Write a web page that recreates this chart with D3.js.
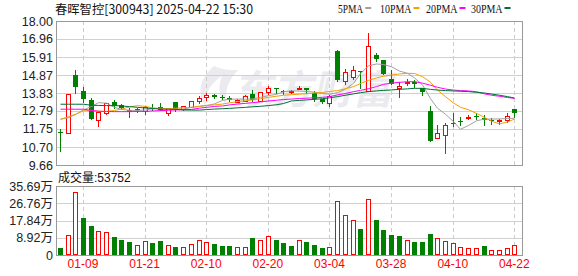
<!DOCTYPE html>
<html>
<head>
<meta charset="utf-8">
<script src="https://cdn.jsdelivr.net/npm/d3@7"></script>
<style>
body { margin: 0; background: #fff; }
svg text { font-family: "Liberation Sans", Arial, "Noto Sans CJK SC", sans-serif; }
</style>
</head>
<body>
<script>
// trading days shown (stock suspended 03-05 .. 03-18)
const dates = ['01-06','01-07','01-08','01-09','01-10','01-13','01-14','01-15','01-16','01-17',
  '01-20','01-21','01-22','01-23','01-24','01-27','02-05','02-06','02-07','02-10',
  '02-11','02-12','02-13','02-14','02-17','02-18','02-19','02-20','02-21','02-24',
  '02-25','02-26','02-27','02-28','03-03','03-04','03-19','03-20','03-21','03-24',
  '03-25','03-26','03-27','03-28','03-31','04-01','04-02','04-03','04-07','04-08',
  '04-09','04-10','04-11','04-14','04-15','04-16','04-17','04-18','04-21','04-22'];

const opens = [11.57,11.53,14.87,13.95,13.43,12.25,12.67,13.31,13.14,12.77,
  12.88,12.81,12.96,13.02,12.66,13.31,12.89,13.00,13.39,13.58,
  13.72,13.60,13.56,13.33,13.39,13.76,13.35,13.87,14.11,13.97,
  13.89,14.06,14.10,13.81,13.47,13.27,16.26,14.54,14.74,15.10,
  13.96,16.03,15.74,14.62,14.10,14.43,14.45,14.14,12.79,11.23,
  11.38,12.10,12.19,12.40,12.52,12.40,12.28,12.20,12.27,12.90];
const highs = [11.75,13.76,15.16,14.18,13.54,12.71,13.23,13.43,13.21,12.96,
  12.96,13.08,13.19,13.25,12.98,13.31,13.08,13.37,13.66,13.81,
  13.77,13.70,13.64,13.48,13.70,13.99,13.89,14.24,14.11,14.00,
  14.02,14.24,14.10,13.96,13.50,13.72,16.32,15.22,15.39,15.10,
  17.30,16.17,15.74,15.16,14.45,14.62,14.57,14.14,13.08,11.96,
  12.08,12.65,12.42,12.54,12.65,12.56,12.37,12.33,12.67,12.90];
const lows = [10.49,11.53,13.85,13.31,12.34,11.94,12.61,12.98,12.89,12.46,
  12.75,12.61,12.85,12.83,12.56,12.79,12.87,13.00,13.23,13.43,
  13.54,13.50,13.35,13.29,13.39,13.37,13.35,13.79,13.83,13.77,
  13.81,14.06,13.81,13.37,13.27,13.08,14.53,14.33,14.66,14.12,
  13.96,15.67,14.95,14.35,13.58,14.27,14.20,13.70,11.07,11.20,
  10.37,11.92,11.98,12.31,12.34,11.96,12.05,12.05,12.15,12.44];
const closes = [11.50,13.76,14.20,13.50,12.34,12.71,13.23,13.06,12.94,12.85,
  12.86,13.00,12.89,12.85,12.98,12.92,13.06,13.37,13.52,13.72,
  13.62,13.58,13.41,13.43,13.64,13.44,13.89,14.12,14.09,13.95,
  13.94,14.14,14.00,13.50,13.33,13.66,14.58,15.06,15.14,15.06,
  16.53,15.78,14.95,14.35,14.22,14.49,14.33,13.89,11.07,11.50,
  11.96,12.08,12.17,12.42,12.50,12.25,12.26,12.27,12.52,12.67];

// volume in 万 shares
const volumes = [3.5,10.5,32.8,19.0,14.8,12.6,12.1,9.2,7.6,6.6,
  5.4,7.4,6.0,7.1,5.4,4.0,4.0,5.9,8.0,6.9,
  5.5,4.5,4.5,4.0,4.3,8.6,7.6,10.0,7.6,6.0,
  4.5,8.0,6.6,5.0,3.5,4.0,28.1,20.9,18.3,13.3,
  29.2,17.9,12.8,10.2,9.7,8.0,6.6,6.6,10.7,9.0,
  7.4,6.4,4.3,3.8,3.8,4.5,2.8,2.8,3.8,5.3752];

const ma5 = [12.31,12.40,12.58,12.85,13.05,13.27,13.24,13.00,12.88,12.83,
  12.82,12.85,12.92,12.94,12.92,12.89,12.90,13.00,13.06,13.10,
  13.20,13.40,13.47,13.48,13.47,13.48,13.58,13.68,13.75,13.90,
  13.96,13.94,13.92,13.88,13.80,13.76,13.85,14.05,14.39,14.95,
  15.40,15.51,15.48,15.35,15.10,14.97,14.70,14.30,13.50,12.95,
  12.60,12.17,11.73,11.95,12.22,12.32,12.32,12.33,12.35,12.37];
const ma10 = [12.31,12.45,12.60,12.80,12.82,12.78,12.76,12.82,12.90,13.02,
  13.10,13.05,12.97,12.94,12.93,12.95,12.97,13.00,13.06,13.11,
  13.14,13.19,13.26,13.33,13.38,13.43,13.50,13.58,13.64,13.70,
  13.73,13.76,13.79,13.83,13.86,13.92,13.97,14.08,14.20,14.38,
  14.56,14.70,14.80,14.87,14.93,14.97,14.96,14.78,14.45,14.00,
  13.62,13.25,13.00,12.86,12.65,12.42,12.20,12.04,12.15,12.32];
const ma20 = [12.89,12.89,12.89,12.89,12.82,12.77,12.76,12.75,12.75,12.75,
  12.76,12.77,12.79,12.81,12.83,12.85,12.86,12.88,12.95,13.00,
  13.05,13.08,13.14,13.19,13.23,13.27,13.31,13.37,13.41,13.45,
  13.48,13.51,13.53,13.55,13.58,13.62,13.72,13.80,13.91,13.98,
  14.08,14.20,14.33,14.40,14.45,14.48,14.49,14.40,14.28,14.16,
  14.06,14.00,13.97,13.95,13.90,13.78,13.70,13.64,13.57,13.52];
const ma30 = [13.18,13.18,13.18,13.18,13.12,13.11,13.10,13.10,13.08,13.04,
  13.00,12.96,12.93,12.90,12.89,12.88,12.85,12.84,12.84,12.87,
  12.90,12.92,12.94,12.97,13.00,13.03,13.06,13.10,13.15,13.22,
  13.37,13.40,13.43,13.46,13.50,13.55,13.62,13.70,13.78,13.85,
  13.91,13.95,13.98,14.01,14.04,14.07,14.10,14.10,14.04,14.00,
  13.97,13.95,13.93,13.91,13.87,13.83,13.77,13.70,13.62,13.54];

const priceTicks = [9.66,10.70,11.75,12.79,13.83,14.87,15.91,16.96,18.00];
const volTicks = [0,8.92,17.84,26.76,35.69];
const volTickLabels = ['0','8.92万','17.84万','26.76万','35.69万'];
const dateTicks = ['01-09','01-21','02-10','02-20','03-04','03-28','04-10','04-22'];

const maNames = ['5PMA','10PMA','20PMA','30PMA'];
const maColors = ['#a0a0a0','#f5a000','#ff00ff','#006f35'];

const width = 578, height = 276;
const left = 56, right = 522;
const RED = '#ff0000', GREEN = '#008000';

const svg = d3.select('body').append('svg')
  .attr('width', width)
  .attr('height', height);

const idx = d3.range(dates.length);
const x = d3.scaleBand().domain(idx).range([left, 518.2]);
const cx = i => Math.round(x(i) + x.bandwidth() / 2);

const yP = d3.scaleLinear().domain([9.66, 18.00]).range([165, 21]);
const yV = d3.scaleLinear().domain([0, 35.69]).range([255, 186]);

// watermark (logo swoosh + name)
const wm = svg.append('g').attr('fill', '#ebebef');
wm.append('path')
  .attr('d', 'M214,66 C200,78 196,94 206,106 C204,94 210,84 222,76 C218,86 218,96 226,104 C224,90 230,78 238,70 C230,70 222,70 214,66 Z');
wm.append('text')
  .attr('x', 255).attr('y', 104)
  .attr('transform', 'skewX(-12)')
  .attr('font-size', 40).attr('font-weight', 'bold')
  .style('font-family', '"Noto Sans CJK SC", sans-serif')
  .text('东方财富');

// grid + frames
function panel(y, ticks, top, bottom) {
  const g = svg.append('g');
  g.selectAll('line.h')
    .data(ticks.slice(1, -1))
    .join('line')
    .attr('x1', left).attr('x2', right)
    .attr('y1', d => Math.round(y(d)) + 0.5).attr('y2', d => Math.round(y(d)) + 0.5)
    .attr('stroke', '#d0d0d0');
  g.selectAll('line.v')
    .data(dateTicks)
    .join('line')
    .attr('x1', d => cx(dates.indexOf(d)) + 0.5).attr('x2', d => cx(dates.indexOf(d)) + 0.5)
    .attr('y1', top).attr('y2', bottom)
    .attr('stroke', '#cccccc')
    .attr('stroke-dasharray', '4,3');
  g.append('rect')
    .attr('x', left + 0.5).attr('y', top + 0.5)
    .attr('width', right - left).attr('height', bottom - top)
    .attr('fill', 'none').attr('stroke', '#999');
}
panel(yP, priceTicks, 21, 165);
panel(yV, volTicks, 186, 255);

// axes
svg.append('g')
  .attr('transform', `translate(${left},0)`)
  .call(d3.axisLeft(yP).tickValues(priceTicks).tickFormat(d3.format('.2f')).tickSize(0).tickPadding(3))
  .call(g => g.select('.domain').remove())
  .call(g => g.selectAll('text').attr('font-size', 12.5).attr('fill', '#222').style('font-family', '"Liberation Sans", Arial, sans-serif'));

svg.append('g')
  .attr('transform', `translate(${left},0)`)
  .call(d3.axisLeft(yV).tickValues(volTicks).tickFormat((d, i) => volTickLabels[i]).tickSize(0).tickPadding(3))
  .call(g => g.select('.domain').remove())
  .call(g => g.selectAll('text').attr('font-size', 12.5).attr('fill', '#222'));

svg.append('g')
  .attr('transform', 'translate(0,259)')
  .call(d3.axisBottom(x).tickValues(dateTicks.map(d => dates.indexOf(d))).tickFormat(i => dates[i]).tickSize(0).tickPadding(0))
  .call(g => g.select('.domain').remove())
  .call(g => g.selectAll('text').attr('font-size', 12).attr('fill', RED).attr('dy', '0.71em'));

// candles
const up = i => closes[i] >= opens[i];
const cg = svg.append('g');
cg.selectAll('line')
  .data(idx)
  .join('line')
  .attr('x1', i => cx(i) + 0.5).attr('x2', i => cx(i) + 0.5)
  .attr('y1', i => Math.round(yP(highs[i]))).attr('y2', i => Math.round(yP(lows[i])) + 1)
  .attr('stroke', i => up(i) ? RED : GREEN);
cg.selectAll('rect')
  .data(idx)
  .join('rect')
  .each(function (i) {
    const t = Math.round(yP(Math.max(opens[i], closes[i])));
    const b = Math.round(yP(Math.min(opens[i], closes[i])));
    const r = d3.select(this);
    if (up(i)) {
      r.attr('x', cx(i) - 1.5).attr('y', t + 0.5)
        .attr('width', 4).attr('height', Math.max(b - t, 1))
        .attr('fill', b - t > 1 ? '#fff' : RED).attr('stroke', RED);
    } else {
      r.attr('x', cx(i) - 2).attr('y', t)
        .attr('width', 5).attr('height', Math.max(b - t, 1))
        .attr('fill', GREEN);
    }
  });

// moving averages
[ma5, ma10, ma20, ma30].forEach((m, k) => {
  svg.append('path')
    .datum(idx)
    .attr('fill', 'none')
    .attr('stroke', maColors[k])
    .attr('stroke-width', 1)
    .attr('d', d3.line().x(i => cx(i) + 0.5).y(i => yP(m[i])));
});

// volume bars, coloured by change from previous close
const volUp = i => i === 0 ? up(0) : closes[i] >= closes[i - 1];
svg.append('g')
  .selectAll('rect')
  .data(idx)
  .join('rect')
  .each(function (i) {
    const t = Math.round(yV(volumes[i]));
    const r = d3.select(this);
    if (volUp(i)) {
      r.attr('x', cx(i) - 1.5).attr('y', t + 0.5)
        .attr('width', 4).attr('height', 254 - t)
        .attr('fill', '#fff').attr('stroke', RED);
    } else {
      r.attr('x', cx(i) - 2).attr('y', t)
        .attr('width', 5).attr('height', 255 - t)
        .attr('fill', GREEN);
    }
  });

// title, legend, volume label
svg.append('text')
  .attr('x', 55).attr('y', 13.5)
  .attr('font-size', 12.5).attr('fill', '#111')
  .attr('textLength', 198).attr('lengthAdjust', 'spacingAndGlyphs')
  .style('font-family', '"Noto Sans CJK SC", sans-serif')
  .text('春晖智控[300943] 2025-04-22 15:30');

const legendX = [338, 380, 426, 471];
const legend = svg.append('g')
  .selectAll('g')
  .data(maNames)
  .join('g')
  .attr('transform', (d, i) => `translate(${legendX[i]},0)`);
legend.append('text')
  .attr('y', 13)
  .attr('font-size', 13).attr('fill', '#111')
  .attr('textLength', d => d.length * 6.3).attr('lengthAdjust', 'spacingAndGlyphs')
  .style('font-family', '"Liberation Serif", serif')
  .text(d => d);
legend.append('rect')
  .attr('x', d => d.length * 6.3 + 2).attr('y', 7)
  .attr('width', 6).attr('height', 2)
  .attr('fill', (d, i) => maColors[i]);

svg.append('text')
  .attr('x', 58).attr('y', 181.5)
  .attr('font-size', 12).attr('fill', '#111')
  .text('成交量:53752');
</script>
</body>
</html>
